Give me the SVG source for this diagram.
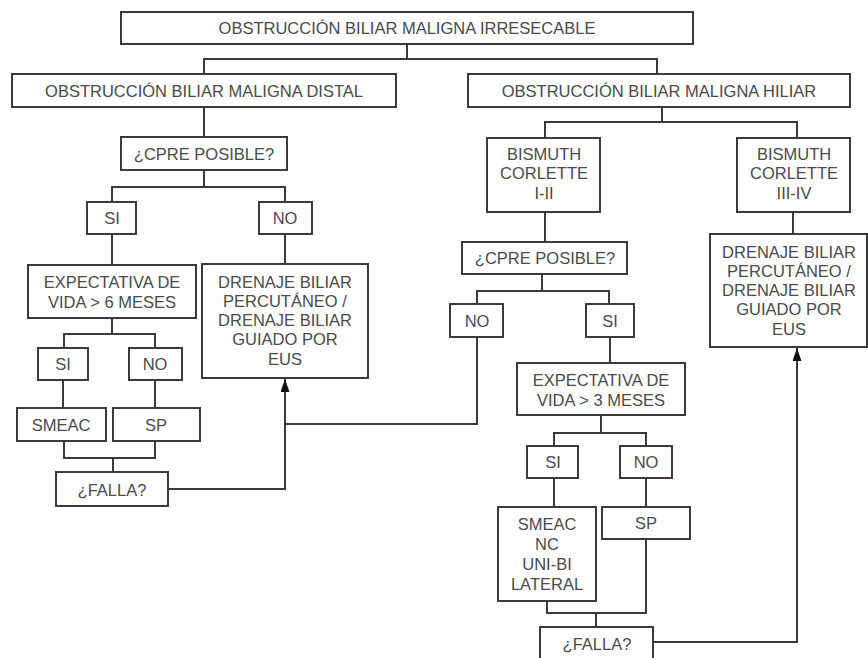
<svg xmlns="http://www.w3.org/2000/svg" width="868" height="658" viewBox="0 0 868 658">
<defs>
<style>
rect{fill:#fff;stroke:#3a3a3a;stroke-width:2}
text{font-family:"Liberation Sans",Arial,sans-serif;font-size:16.5px;fill:#4a4a4a;text-anchor:middle}
.c path{fill:none;stroke:#3a3a3a;stroke-width:2}
</style>
<marker id="ah" markerWidth="13" markerHeight="9" refX="13" refY="4.5" orient="auto" markerUnits="userSpaceOnUse" viewBox="0 0 13 9">
<path d="M0,0 L13,4.5 L0,9 Z" fill="#111"/>
</marker>
</defs>
<rect x="0" y="0" width="868" height="658" style="fill:#fff;stroke:none"/>
<g class="c" id="connectors">
<path d="M407,44V59M204,74V59H657V74"/>
<path d="M204,107V137"/>
<path d="M204,170V187M112,202V187H285V202"/>
<path d="M112,234V265M285,234V264"/>
<path d="M112,318V334M64,348V334H155V348"/>
<path d="M63,380V408M155,380V408"/>
<path d="M64,441V458H155V441M113,458V472"/>
<path d="M168,489H285V379" marker-end="url(#ah)"/>
<path d="M477,337V424H285"/>
<path d="M662,107V122M545,138V122H797V138"/>
<path d="M545,212V242"/>
<path d="M542,274V291M477,304V291H609V304"/>
<path d="M610,337V363"/>
<path d="M601,415V433M554,446V433H646V446"/>
<path d="M554,478V507M646,478V507"/>
<path d="M547,601V613H646V539M596,613V627"/>
<path d="M653,642H797V348" marker-end="url(#ah)"/>
<path d="M793,212V234"/>
</g>
<g id="n_top"><rect x="121" y="12" width="572" height="32"/><text x="407" y="34">OBSTRUCCIÓN BILIAR MALIGNA IRRESECABLE</text></g>
<g id="n_distal"><rect x="12" y="74" width="384" height="33"/><text x="204" y="97">OBSTRUCCIÓN BILIAR MALIGNA DISTAL</text></g>
<g id="n_hiliar"><rect x="468" y="74" width="382" height="33"/><text x="659" y="97">OBSTRUCCIÓN BILIAR MALIGNA HILIAR</text></g>
<g id="n_cpre1"><rect x="121" y="137" width="166" height="33"/><text x="204" y="160">¿CPRE POSIBLE?</text></g>
<g id="n_si1"><rect x="87" y="202" width="49" height="32"/><text x="112" y="224">SI</text></g>
<g id="n_no1"><rect x="259" y="202" width="53" height="32"/><text x="285" y="224">NO</text></g>
<g id="n_exp6"><rect x="28" y="265" width="168" height="53"/><text x="112" y="288">EXPECTATIVA DE</text><text x="112" y="308">VIDA &gt; 6 MESES</text></g>
<g id="n_dren1"><rect x="202" y="264" width="166" height="114"/><text x="285" y="288">DRENAJE BILIAR</text><text x="285" y="307">PERCUTÁNEO /</text><text x="285" y="326">DRENAJE BILIAR</text><text x="285" y="345">GUIADO POR</text><text x="285" y="365">EUS</text></g>
<g id="n_si2"><rect x="38" y="348" width="50" height="32"/><text x="63" y="370">SI</text></g>
<g id="n_no2"><rect x="129" y="348" width="53" height="32"/><text x="155" y="370">NO</text></g>
<g id="n_smeac1"><rect x="17" y="408" width="89" height="33"/><text x="61" y="431">SMEAC</text></g>
<g id="n_sp1"><rect x="113" y="408" width="87" height="33"/><text x="156" y="431">SP</text></g>
<g id="n_falla1"><rect x="56" y="472" width="112" height="34"/><text x="112" y="496">¿FALLA?</text></g>
<g id="n_bis12"><rect x="487" y="138" width="113" height="74"/><text x="544" y="160">BISMUTH</text><text x="544" y="179">CORLETTE</text><text x="544" y="199">I-II</text></g>
<g id="n_bis34"><rect x="737" y="138" width="113" height="74"/><text x="794" y="160">BISMUTH</text><text x="794" y="179">CORLETTE</text><text x="794" y="199">III-IV</text></g>
<g id="n_dren2"><rect x="710" y="234" width="157" height="113"/><text x="789" y="258">DRENAJE BILIAR</text><text x="789" y="277">PERCUTÁNEO /</text><text x="789" y="296">DRENAJE BILIAR</text><text x="789" y="315">GUIADO POR</text><text x="789" y="335">EUS</text></g>
<g id="n_cpre2"><rect x="462" y="242" width="165" height="32"/><text x="545" y="264">¿CPRE POSIBLE?</text></g>
<g id="n_no3"><rect x="450" y="304" width="53" height="33"/><text x="477" y="327">NO</text></g>
<g id="n_si3"><rect x="586" y="304" width="48" height="33"/><text x="610" y="327">SI</text></g>
<g id="n_exp3"><rect x="517" y="363" width="168" height="52"/><text x="601" y="386">EXPECTATIVA DE</text><text x="601" y="406">VIDA &gt; 3 MESES</text></g>
<g id="n_si4"><rect x="527" y="446" width="51" height="32"/><text x="553" y="468">SI</text></g>
<g id="n_no4"><rect x="620" y="446" width="52" height="32"/><text x="646" y="468">NO</text></g>
<g id="n_smeac2"><rect x="498" y="507" width="98" height="94"/><text x="547" y="530">SMEAC</text><text x="547" y="550">NC</text><text x="547" y="570">UNI-BI</text><text x="547" y="590">LATERAL</text></g>
<g id="n_sp2"><rect x="602" y="507" width="88" height="32"/><text x="646" y="529">SP</text></g>
<g id="n_falla2"><rect x="540" y="627" width="113" height="33"/><text x="597" y="650">¿FALLA?</text></g>
</svg>
